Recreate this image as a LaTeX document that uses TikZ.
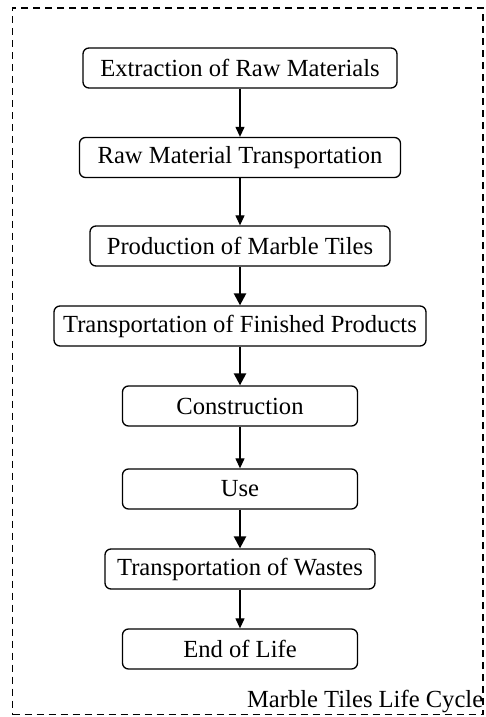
\documentclass[tikz,border=0pt]{standalone}
\usepackage{fontspec}
\setmainfont{Liberation Serif}
\usetikzlibrary{arrows.meta}
\tikzstyle{stage} = [rectangle, rounded corners=3pt, text centered, draw=black, line width=0.65pt, minimum height=20pt, inner xsep=2pt, font=\fontsize{12.3}{14}\selectfont]
\tikzstyle{arrow} = [line width=0.6pt,-{Triangle[length=5pt,width=4.5pt]}]
\tikzstyle{heavyarrow} = [line width=1.2pt,-{Triangle[length=6pt,width=6pt]}]

\begin{document}
\begin{tikzpicture}[node distance=40pt]
\useasboundingbox (0,0) rectangle (243pt,-358.5pt);

\node (extract) [stage, minimum width=157pt] at (120pt,-34pt) {Extraction of Raw Materials};
\node (rawtrans) [stage, minimum width=160.5pt, below of=extract, yshift=-4.75pt] {Raw Material Transportation};
\node (produce) [stage, minimum width=150pt, below of=rawtrans, yshift=-4.25pt] {Production of Marble Tiles};
\node (finished) [stage, minimum width=186pt, below of=produce] {Transportation of Finished Products};
\node (construct) [stage, minimum width=117.5pt, below of=finished] {Construction};
\node (use) [stage, minimum width=117.5pt, below of=construct, yshift=-1.5pt] {Use};
\node (wastes) [stage, minimum width=135pt, below of=use] {Transportation of Wastes};
\node (eol) [stage, minimum width=117.5pt, below of=wastes] {End of Life};

\node (cycle) [draw=black, dashed, dash pattern=on 3.5pt off 2.5pt, line width=0.6pt, minimum width=235.25pt, minimum height=353.25pt] at (123.875pt,-180.625pt) {};
\node (title) [anchor=base east, inner sep=0pt, yshift=3.75pt, font=\fontsize{12.3}{14}\selectfont] at (cycle.south east) {Marble Tiles Life Cycle};

\draw [arrow] (extract) -- (rawtrans);
\draw [arrow] (rawtrans) -- (produce);
\draw [heavyarrow] (produce) -- (finished);
\draw [heavyarrow] (finished) -- (construct);
\draw [arrow] (construct) -- (use);
\draw [heavyarrow] (use) -- (wastes);
\draw [arrow] (wastes) -- (eol);

\end{tikzpicture}
\end{document}
